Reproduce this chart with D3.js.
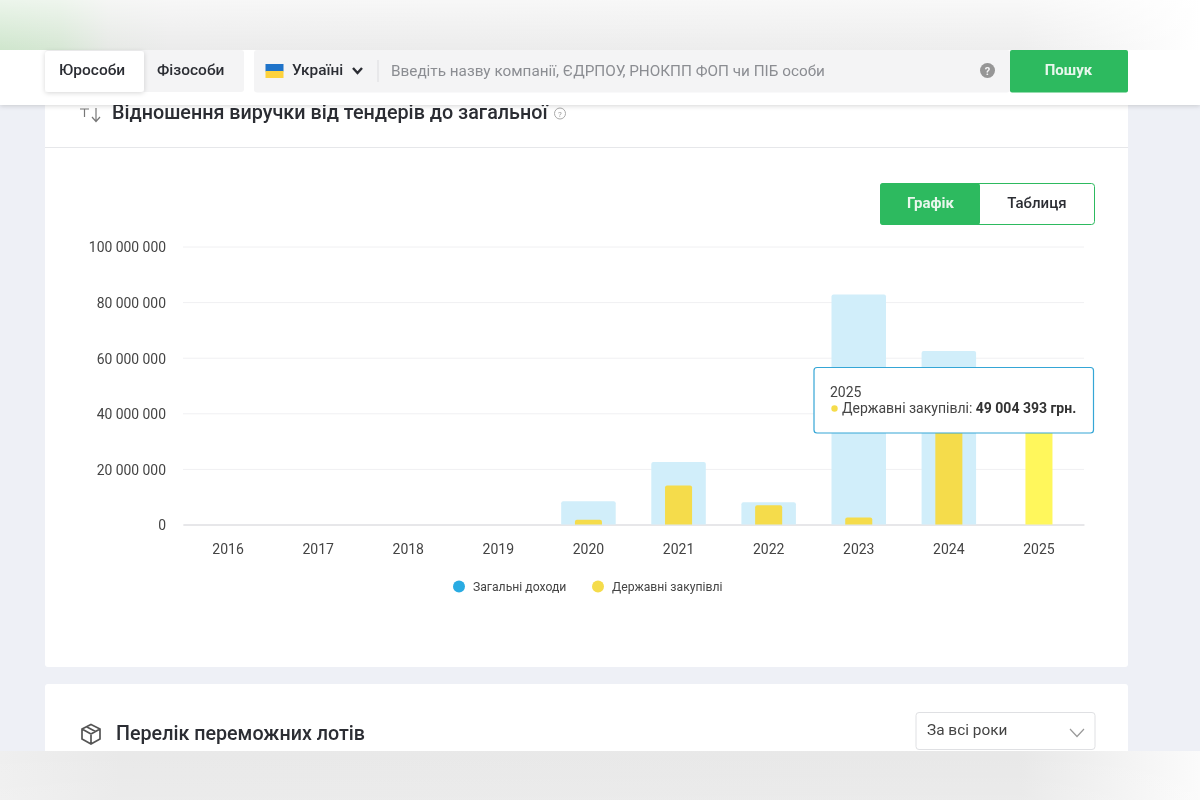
<!DOCTYPE html>
<html lang="uk">
<head>
<meta charset="utf-8">
<script src="https://cdn.jsdelivr.net/npm/d3@7"></script>
<style>
  html, body { margin: 0; padding: 0; background: #eef0f6; overflow: hidden; }
  svg { display: block; font-family: Roboto, sans-serif; filter: blur(0.35px); }
</style>
</head>
<body>
<div id="chart"></div>
<script>
var years = ["2016", "2017", "2018", "2019", "2020", "2021", "2022", "2023", "2024", "2025"];
var totalIncome = [0, 0, 0, 0, 8400000, 22500000, 8000000, 82700000, 62400000, 0];
var govPurchases = [0, 0, 0, 0, 1700000, 14000000, 6900000, 2500000, 36000000, 49004393];
var yTicks = [0, 20000000, 40000000, 60000000, 80000000, 100000000];
var legendNames = ["Загальні доходи", "Державні закупівлі"];
var legendColors = ["#29abe2", "#f5dc4b"];

var svg = d3.select("#chart").append("svg")
    .attr("width", 1200)
    .attr("height", 800);

var defs = svg.append("defs");

function gradient(id, stops, vertical) {
    var g = defs.append("linearGradient").attr("id", id);
    if (vertical) g.attr("x2", 0).attr("y2", 1);
    stops.forEach(function(s) {
        g.append("stop").attr("offset", s[0]).attr("stop-color", s[1]).attr("stop-opacity", s[2] === undefined ? 1 : s[2]);
    });
}
gradient("topBand", [["0", "#cfe6cd"], ["0.05", "#d6e7d4"], ["0.09", "#e6e9e5"], ["0.14", "#ebebeb"], ["0.85", "#eeeeee"], ["1", "#ffffff"]]);
gradient("topFade", [["0", "#ffffff", 0.6], ["0.5", "#ffffff", 0.3], ["1", "#ffffff", 0]], true);
gradient("bottomBand", [["0", "#efefef"], ["0.1", "#e9e9e9"], ["0.85", "#e8e8e8"], ["1", "#fbfbfb"]]);
gradient("bottomFade", [["0", "#ffffff", 0], ["1", "#ffffff", 0.12]], true);

defs.append("filter").attr("id", "shadow")
    .attr("x", "-5%").attr("y", "-20%").attr("width", "110%").attr("height", "150%")
  .append("feDropShadow")
    .attr("dx", 0).attr("dy", 1).attr("stdDeviation", 2.5)
    .attr("flood-color", "#000").attr("flood-opacity", 0.16);

function box(x, y, w, h, fill, r) {
    return svg.append("rect").attr("x", x).attr("y", y).attr("width", w).attr("height", h)
        .attr("rx", r || 0).attr("fill", fill);
}

function label(x, y, str, size, color, weight, anchor) {
    return svg.append("text").attr("x", x).attr("y", y).text(str)
        .attr("font-size", size).attr("fill", color)
        .attr("font-weight", weight || 400)
        .attr("text-anchor", anchor || "start");
}

// cards
box(45, 60, 1083, 607, "#fff", 3);
box(45, 684, 1083, 100, "#fff", 3);
box(45, 147, 1083, 1, "#e6e7ea");

// card title
svg.append("path")
    .attr("d", "M80 109h9M84.5 109v8M96 108v13M92 117l4 4.5 4-4.5")
    .attr("fill", "none").attr("stroke", "#777").attr("stroke-width", 1.2);
label(112, 119, "Відношення виручки від тендерів до загальної", 19.75, "#2b2d33", 500);
svg.append("circle").attr("cx", 560).attr("cy", 113.5).attr("r", 5.5)
    .attr("fill", "none").attr("stroke", "#aaa");
label(560, 116.5, "?", 8, "#999", 400, "middle");

// graph / table switch
box(880.5, 183.5, 214, 41, "#fff", 3).attr("stroke", "#2dba5f");
box(880, 183, 100, 42, "#2dba5f", 3);
label(930.5, 208, "Графік", 15, "#e8f7ec", 700, "middle");
label(1037, 208, "Таблиця", 15, "#2b2d33", 500, "middle");

// chart
var margin = { left: 183, right: 1084, top: 246.5, bottom: 524.5 };

var x = d3.scaleBand().domain(years).range([margin.left, margin.right]);
var y = d3.scaleLinear().domain([0, 100000000]).range([margin.bottom, margin.top]);

var fmt = function(d) { return d3.format(",")(d).replace(/,/g, " "); };

var yAxis = svg.append("g")
    .attr("transform", "translate(" + margin.left + ",0)")
    .call(d3.axisLeft(y).tickValues(yTicks).tickFormat(fmt).tickSize(-(margin.right - margin.left)).tickPadding(17));
yAxis.select(".domain").remove();
yAxis.selectAll(".tick line").attr("stroke", "#f0f0f2");
yAxis.selectAll(".tick text")
    .attr("font-family", "Roboto, sans-serif").attr("font-size", 13.9).attr("fill", "#444")
    .attr("y", 1);

var xAxis = svg.append("g")
    .attr("transform", "translate(0," + margin.bottom + ")")
    .call(d3.axisBottom(x).tickSize(0).tickPadding(20));
xAxis.select(".domain").attr("stroke", "#e2e2e4").attr("stroke-width", 1.5);
xAxis.selectAll(".tick text")
    .attr("font-family", "Roboto, sans-serif").attr("font-size", 14).attr("fill", "#444");

function barPath(cx, w, top) {
    var r = Math.min(2, y(0) - top);
    var l = cx - w / 2;
    return "M" + l + "," + y(0) + "V" + (top + r) + "Q" + l + "," + top + " " + (l + r) + "," + top +
        "H" + (l + w - r) + "Q" + (l + w) + "," + top + " " + (l + w) + "," + (top + r) + "V" + y(0) + "Z";
}

var center = function(i) { return x(years[i]) + x.bandwidth() / 2; };

svg.append("g").selectAll("path")
    .data(totalIncome.filter(function(d) { return d > 0; }).map(function(d) { return [totalIncome.indexOf(d), d]; }))
    .enter().append("path")
    .attr("d", function(d) { return barPath(center(d[0]), x.bandwidth() * 0.605, y(d[1])); })
    .attr("fill", "#d1eefa");

svg.append("g").selectAll("path")
    .data(govPurchases.filter(function(d) { return d > 0; }).map(function(d) { return [govPurchases.indexOf(d), d]; }))
    .enter().append("path")
    .attr("d", function(d) { return barPath(center(d[0]), x.bandwidth() * 0.3, y(d[1])); })
    // the hovered year is lighter
    .attr("fill", function(d) { return years[d[0]] == "2025" ? "#fff75c" : "#f5dc4b"; });

// legend
var legendX = [459, 598];
legendNames.forEach(function(name, i) {
    svg.append("circle").attr("cx", legendX[i]).attr("cy", 586.5).attr("r", 6).attr("fill", legendColors[i]);
    label(legendX[i] + 14, 591, name, 12.2, "#444");
});

// tooltip
box(814, 367.5, 279.5, 65.5, "#fff", 3).attr("stroke", "#35a6d6").attr("stroke-width", 1.2);
label(830, 396.5, "2025", 14, "#444");
svg.append("circle").attr("cx", 834.5).attr("cy", 408.5).attr("r", 3.2).attr("fill", "#f5dc4b");
var tip = label(842, 413, "Державні закупівлі: ", 14, "#444");
tip.append("tspan").text(fmt(govPurchases[9]) + " грн.").attr("font-weight", 700).attr("fill", "#333");

// second card
svg.append("path")
    .attr("d", "M91 724.5l9 4.5v10l-9 5-9-5v-10zM82 729l9 5 9-5M91 734v10M86.5 726.8l9 4.7")
    .attr("fill", "none").attr("stroke", "#555").attr("stroke-width", 1.7);
label(116, 740, "Перелік переможних лотів", 19.7, "#2b2d33", 500);
box(916, 712.5, 179, 37, "#fff", 3).attr("stroke", "#dfe0e3");
label(927, 735, "За всі роки", 15.4, "#444");
svg.append("path").attr("d", "M1070 729l7 7.5 7-7.5").attr("fill", "none").attr("stroke", "#999").attr("stroke-width", 1.2);

// bottom blurred band
box(0, 751, 1200, 49, "url(#bottomBand)");
box(0, 751, 1200, 49, "url(#bottomFade)");

// sticky header
box(0, 50, 1200, 55, "#fff").attr("filter", "url(#shadow)");
box(0, 0, 1200, 50, "url(#topBand)");
box(0, 0, 1200, 50, "url(#topFade)");

box(45, 50, 199, 42, "#f4f4f5", 3);
box(45, 51, 99, 41, "#fff", 3).attr("filter", "url(#shadow)");
label(59, 75, "Юрособи", 15.5, "#2b2d33", 500);
label(157, 75, "Фізособи", 15.5, "#2b2d33", 500);

box(254, 50, 756, 42.5, "#f4f4f5", 3);
box(265.5, 64, 18, 7.5, "#1f73c9");
box(265.5, 71, 18, 7, "#fdd23d");
label(292, 75, "Україні", 15.4, "#2b2d33", 500);
svg.append("path").attr("d", "M353 68l4.5 5 4.5-5").attr("fill", "none").attr("stroke", "#2b2d33").attr("stroke-width", 2.4);
box(377.5, 60, 1, 22, "#dcdcdf");
label(391, 76, "Введіть назву компанії, ЄДРПОУ, РНОКПП ФОП чи ПІБ особи", 15.3, "#8b8d92");
svg.append("circle").attr("cx", 987.5).attr("cy", 70.5).attr("r", 7.5).attr("fill", "#969696");
label(987.5, 74.5, "?", 11, "#f4f4f5", 700, "middle");
box(1010, 50, 118, 42.5, "#2dba5f", 2);
label(1068.5, 75, "Пошук", 15, "#e8f7ec", 700, "middle");
</script>
</body>
</html>
